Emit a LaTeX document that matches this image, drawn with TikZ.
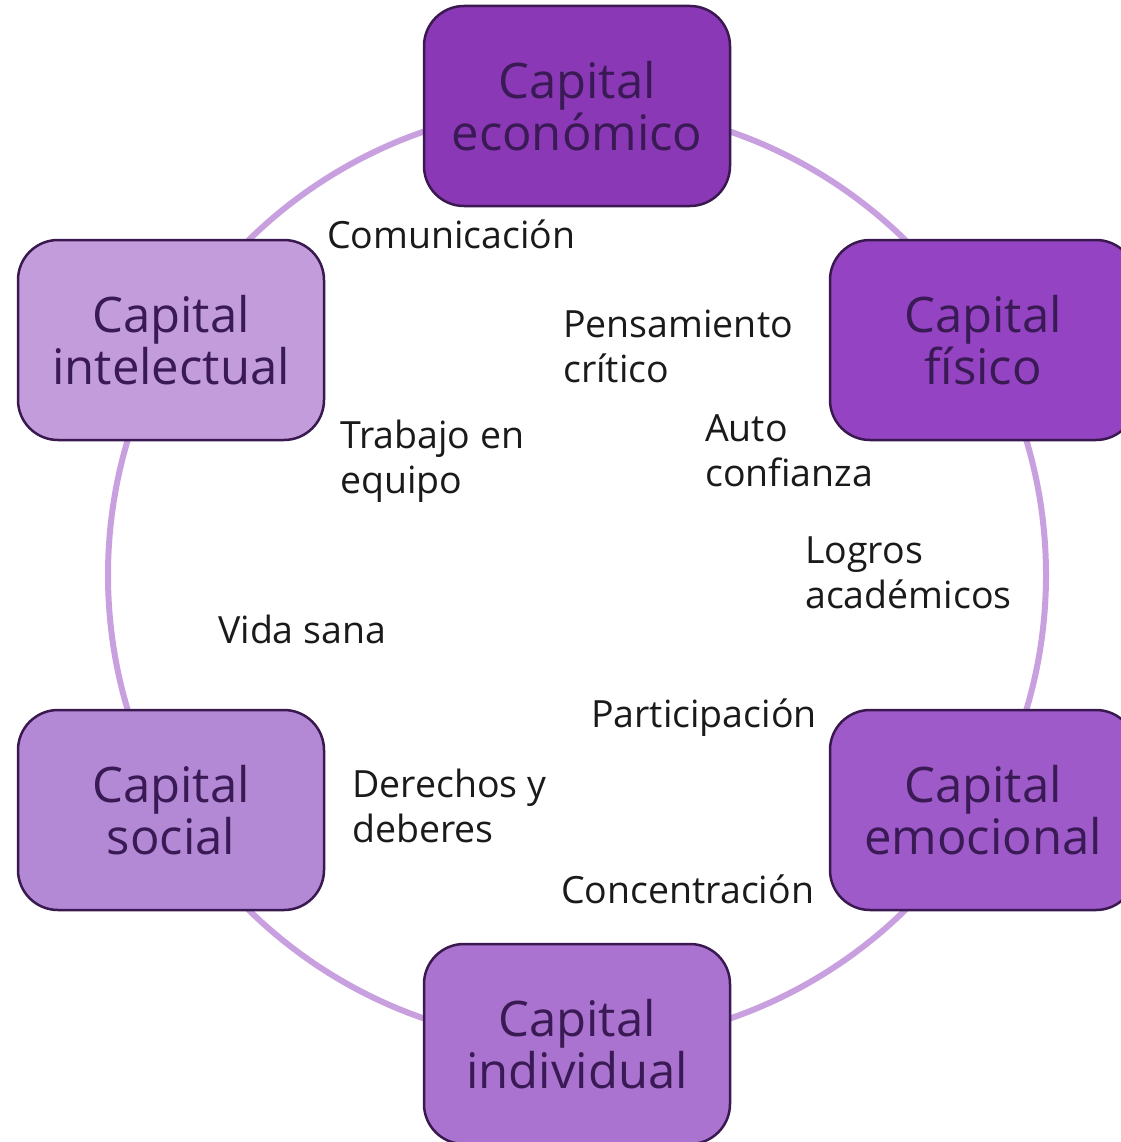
\documentclass[tikz,border=0pt]{standalone}
\usepackage{fontspec}
\setmainfont{Open Sans}[Ligatures={NoCommon}]
\definecolor{ringc}{HTML}{C9A0DF}
\definecolor{edgec}{HTML}{3A1850}
\definecolor{boxtext}{HTML}{3A1A55}
\definecolor{labtext}{HTML}{1A1A1A}
\definecolor{cA}{HTML}{8B38B6}
\definecolor{cB}{HTML}{9444C2}
\definecolor{cC}{HTML}{9E5AC9}
\definecolor{cD}{HTML}{AA73CF}
\definecolor{cE}{HTML}{B389D6}
\definecolor{cF}{HTML}{C29CDB}
\begin{document}
\begin{tikzpicture}[x=1pt,y=-1pt,
  capbox/.style={draw=edgec, line width=2.5pt, rounded corners=40pt,
    minimum width=306pt, minimum height=200pt, inner sep=0pt,
    align=center, text=boxtext,
    font=\fontsize{49}{52}\selectfont},
  lab/.style={anchor=west, align=left, inner sep=0pt, text=labtext,
    font=\fontsize{37.5}{45}\selectfont}]
\useasboundingbox (0,0) rectangle (1120,1142);
\coordinate (ctr) at (577,575);
\draw[ringc, line width=6pt] (ctr) circle[radius=469];
\node[capbox, fill=cA] (eco) at (577,106) {Capital\\económico};
\node[capbox, fill=cB] (fis) at (983,340) {Capital\\físico};
\node[capbox, fill=cC] (emo) at (983,810) {Capital\\emocional};
\node[capbox, fill=cD] (ind) at (577,1044) {Capital\\individual};
\node[capbox, fill=cE] (soc) at (171,810) {Capital\\social};
\node[capbox, fill=cF] (int) at (171,340) {Capital\\intelectual};
\node[lab] (l1) at (327,234) {Comunicación};
\node[lab] (l2) at (563,346) {Pensamiento\\crítico};
\node[lab] (l3) at (705,451) {Auto\\confianza};
\node[lab] (l4) at (340,461) {Trabajo en\\equipo};
\node[lab] (l5) at (805,573) {Logros\\académicos};
\node[lab] (l6) at (218,629) {Vida sana};
\node[lab] (l7) at (591,718) {Participación};
\node[lab] (l8) at (352,806) {Derechos y\\deberes};
\node[lab] (l9) at (561,889) {Concentración};
\end{tikzpicture}
\end{document}
